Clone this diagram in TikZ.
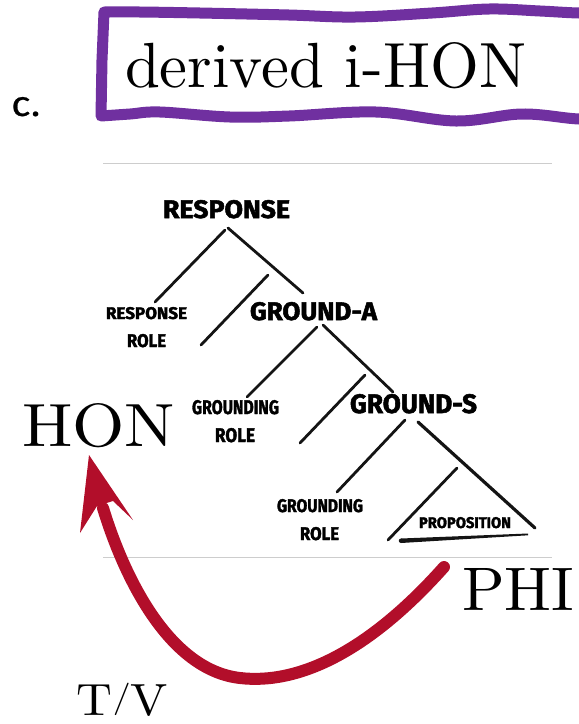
\documentclass[tikz,border=0pt]{standalone}
\usepackage{fontspec}
\usepackage{graphicx}
\newfontfamily\calib{Carlito}[FakeBold=0.6]
\newfontfamily\treefont{Fira Sans}[BoldFont=* Bold, BoldFeatures={FakeBold=2}]
\definecolor{hpurple}{RGB}{112,48,160}
\definecolor{hred}{RGB}{178,14,42}
\definecolor{hgray}{RGB}{205,205,205}
\newcommand{\fitt}[3]{\resizebox{#1pt}{#2pt}{#3}}
\newcommand{\tf}[3]{\resizebox{#1pt}{#2pt}{\treefont\bfseries #3}}
\begin{document}
\begin{tikzpicture}[x=1pt,y=-1pt,
  lbl/.style={anchor=base west, inner sep=0pt, outer sep=0pt},
  branch/.style={line width=2.8pt, line cap=round, draw=black!92},
  rule/.style={draw=hgray, line width=1pt},
  wavebox/.style={draw=hpurple, line width=11pt, line join=round, line cap=round},
  bigarrow/.style={draw=hred, line width=12pt, line cap=round}]
\useasboundingbox (0,0) rectangle (579,724);
\begin{scope}
\clip (0,0) rectangle (579,724);
% wavy purple frame
\draw[wavebox] plot[smooth, tension=0.6] coordinates {(620,13) (579,13) (540,11) (489,9) (432,13) (355,17) (289,15) (200,13) (140,12) (104,12)}
  -- (102,60) -- (101,116)
  -- plot[smooth, tension=0.6] coordinates {(101,116) (130,114) (160,112) (230,117) (289,116) (376,112) (456,121) (522,114) (579,119) (620,118)};
\end{scope}
% texts
\node[lbl] (c) at (12,116) {\fitt{29}{19}{\calib c.}};
\node[lbl] (title) at (125,87) {\fitt{401}{45}{derived i-HON}};
\node[lbl] (hon) at (22,446) {\fitt{153}{43}{HON}};
\node[lbl] (phi) at (462,610) {\fitt{112}{42}{PHI}};
\node[lbl] (tv) at (77,715) {\fitt{91}{32}{T\raisebox{0.17em}{\scalebox{0.72}{/}}V}};
% tree labels
\node[lbl] (resp) at (163,218) {\tf{127}{18}{RESPONSE}};
\node[lbl] (rr1) at (106,319) {\tf{81}{12}{RESPONSE}};
\node[lbl] (rr2) at (127,347) {\tf{39}{13}{ROLE}};
\node[lbl] (ga) at (250,320) {\tf{127}{18}{GROUND-A}};
\node[lbl] (gr1) at (192,414) {\tf{87}{14}{GROUNDING}};
\node[lbl] (gr1b) at (215,442) {\tf{40}{14}{ROLE}};
\node[lbl] (gs) at (350,413) {\tf{127}{19}{GROUND-S}};
\node[lbl] (gr2) at (277,512) {\tf{86}{13}{GROUNDING}};
\node[lbl] (gr2b) at (300,540) {\tf{39}{13}{ROLE}};
\node[lbl] (prop) at (419,528) {\tf{92}{11}{PROPOSITION}};
% rules
\coordinate (t1) at (103,163); \coordinate (t2) at (552,163);
\coordinate (b1) at (103,557); \coordinate (b2) at (552,557);
\draw[rule] (t1) -- (t2);
\draw[rule] (b1) -- (b2);
% branches
\coordinate (r1) at (225,230); \coordinate (r1e) at (155,302);
\coordinate (r2) at (228,228); \coordinate (r2e) at (303,293);
\coordinate (r3) at (268,275); \coordinate (r3e) at (201,345);
\coordinate (a1) at (317,327); \coordinate (a1e) at (247,397);
\coordinate (a2) at (323,325); \coordinate (a2e) at (393,392);
\coordinate (a3) at (365,375); \coordinate (a3e) at (300,443);
\coordinate (s1) at (405,420); \coordinate (s1e) at (337,492);
\coordinate (s2) at (418,422); \coordinate (s2e) at (535,528);
\coordinate (p1) at (457,468); \coordinate (p1e) at (388,540);
\draw[branch] (r1) -- (r1e);
\draw[branch] (r2) -- (r2e);
\draw[branch] (r3) -- (r3e);
\draw[branch] (a1) -- (a1e);
\draw[branch] (a2) -- (a2e);
\draw[branch] (a3) -- (a3e);
\draw[branch] (s1) -- (s1e);
\draw[branch, line width=3.2pt] (s2) -- (s2e);
\draw[branch] (p1) -- (p1e);
\fill[black!92] (401,538.5) -- (528,533.5) -- (528,535.3) -- (401,543) -- cycle;
\fill[black!92] (401,540.75) circle (2.25pt);
% red arrow PHI -> HON
\coordinate (as) at (444,567);
\coordinate (ab) at (240,678);
\coordinate (ae) at (103,508);
\draw[bigarrow] (as) .. controls (370,650) and (300,685) .. (ab) .. controls (170,670) and (125,580) .. (ae);
\fill[hred] (89,455) -- (133,520) -- (113,501) -- (97,506) -- (80,533) -- cycle;
\end{tikzpicture}
\end{document}
